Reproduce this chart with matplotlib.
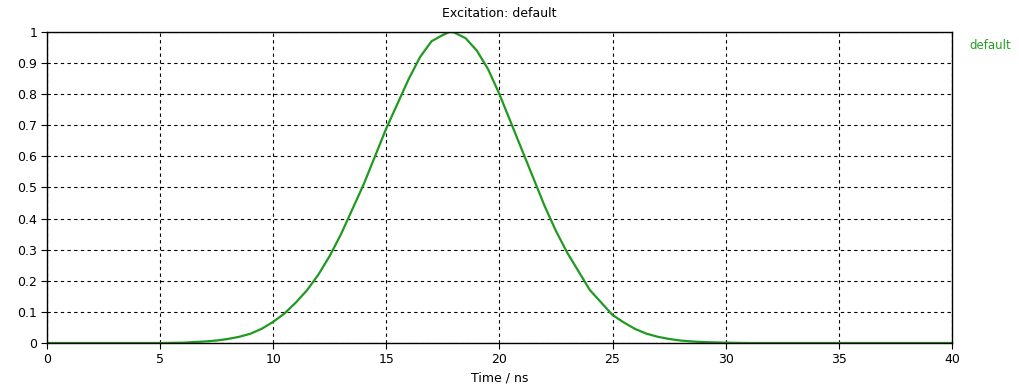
import matplotlib
matplotlib.use("Agg")
import matplotlib.pyplot as plt

time_ns = [0, 1, 2, 3, 4, 5, 6, 6.5, 7, 7.5, 8, 8.5, 9, 9.5, 10, 10.5, 11, 11.5,
           12, 12.5, 13, 13.5, 14, 14.5, 15, 15.5, 16, 16.5, 17, 17.5, 17.8,
           18, 18.5, 19, 19.5, 20, 20.5, 21, 21.5, 22, 22.5, 23, 23.5, 24,
           24.5, 25, 25.5, 26, 26.5, 27, 27.5, 28, 28.5, 29, 29.5, 30, 31, 32,
           33, 34, 35, 36, 37, 38, 39, 40]
amplitude = [0, 0, 0, 0, 0, 0, 0.001, 0.003, 0.005, 0.008, 0.013, 0.02, 0.03,
             0.046, 0.068, 0.095, 0.13, 0.17, 0.22, 0.28, 0.35, 0.43, 0.51,
             0.60, 0.69, 0.77, 0.85, 0.92, 0.97, 0.99, 1.0, 0.998, 0.98, 0.94,
             0.88, 0.80, 0.71, 0.62, 0.53, 0.44, 0.36, 0.29, 0.23, 0.17, 0.13,
             0.09, 0.066, 0.045, 0.03, 0.02, 0.013, 0.008, 0.005, 0.003, 0.002,
             0.001, 0, 0, 0, 0, 0, 0, 0, 0, 0, 0]

x_ticks = [0, 5, 10, 15, 20, 25, 30, 35, 40]
y_ticks = [0, 0.1, 0.2, 0.3, 0.4, 0.5, 0.6, 0.7, 0.8, 0.9, 1]
y_labels = ["0", "0.1", "0.2", "0.3", "0.4", "0.5", "0.6", "0.7", "0.8", "0.9", "1"]

fig = plt.figure(figsize=(10.19, 3.86), dpi=100)
ax = fig.add_axes([0.0461, 0.1114, 0.888, 0.806])

ax.plot(time_ns, amplitude, color="#1f9a1f", linewidth=1.6)

ax.set_xlim(0, 40)
ax.set_ylim(0, 1)
ax.set_xticks(x_ticks)
ax.set_xticklabels([str(t) for t in x_ticks])
ax.set_yticks(y_ticks)
ax.set_yticklabels(y_labels)
ax.tick_params(labelsize=9, length=4, width=0.8, color="black", pad=3)
ax.grid(True, color="black", linestyle=(0, (3, 3)), linewidth=0.8)

for s in ax.spines.values():
    s.set_color("black")
    s.set_linewidth(1.0)

ax.set_title("Excitation: default", fontsize=9, pad=11)
ax.set_xlabel("Time / ns", fontsize=9, labelpad=4)
fig.text(0.972, 0.874, "default", color="#22a022", fontsize=8.5, ha="center")

fig.savefig("out.png", dpi=100)
